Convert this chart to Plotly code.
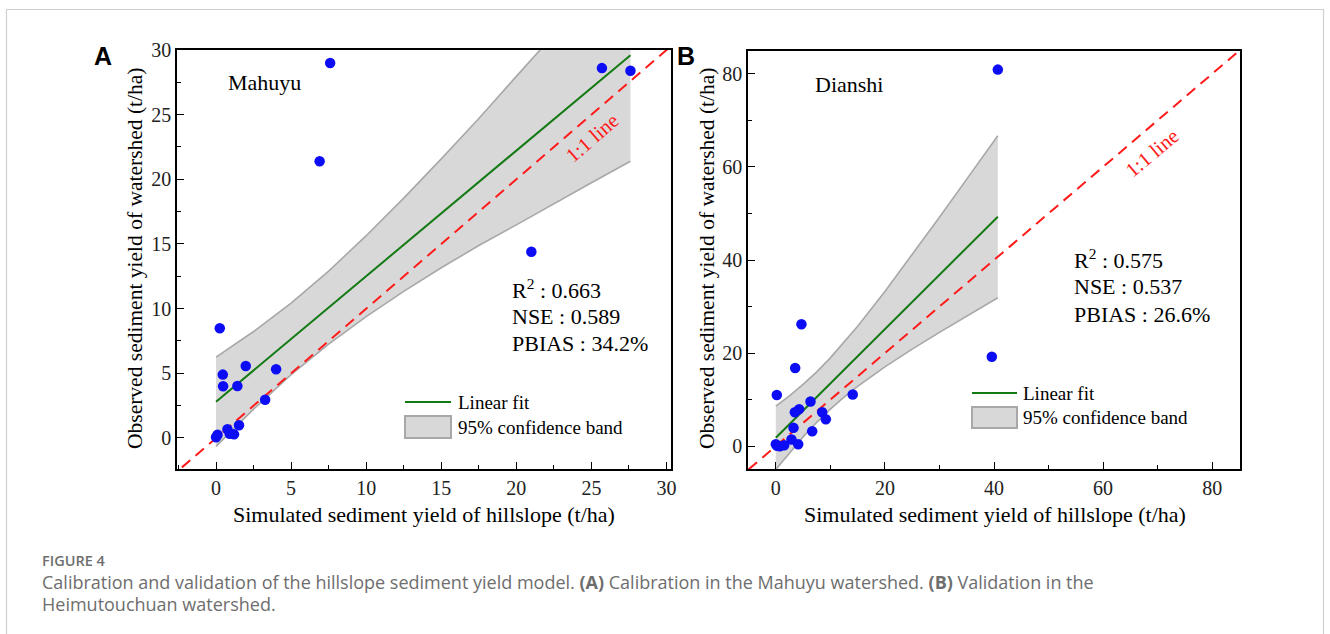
import plotly.graph_objects as go

# ---------------- Data ----------------
# Panel A: Mahuyu (calibration)
a_sim = [7.6, 6.9, 25.7, 27.6, 21.0, 0.25, 0.45, 0.47, 1.98, 1.42, 4.0, 3.27, 1.53, 0.76, 0.91, 1.2, 0.0, 0.1]
a_obs = [29.0, 21.4, 28.6, 28.4, 14.4, 8.48, 4.9, 4.0, 5.57, 4.02, 5.31, 2.96, 0.98, 0.67, 0.33, 0.28, 0.05, 0.25]
a_fit_x = [0.0, 27.6]
a_fit_y = [2.8, 29.6]
a_band_x = [0.0, 2.5, 5.0, 7.5, 10.0, 12.5, 15.0, 17.5, 20.0, 22.5, 25.0, 27.6]
a_band_up = [6.25, 8.23, 10.43, 12.9, 15.64, 18.55, 21.58, 24.7, 27.96, 31.17, 34.42, 37.8]
a_band_lo = [-0.65, 2.23, 4.89, 7.26, 9.38, 11.33, 13.16, 14.88, 16.48, 18.13, 19.74, 21.4]
a_stats = ["R<sup>2</sup> : 0.663", "NSE : 0.589", "PBIAS : 34.2%"]

# Panel B: Dianshi (validation)
b_sim = [40.7, 39.6, 14.1, 4.7, 3.55, 0.18, 6.36, 4.28, 3.49, 8.5, 9.17, 3.24, 6.67, 2.87, 4.1, 1.53, 0.24, 0.0, 0.73]
b_obs = [80.9, 19.2, 11.1, 26.2, 16.8, 11.0, 9.6, 7.96, 7.3, 7.3, 5.8, 3.94, 3.2, 1.43, 0.43, 0.2, 0.08, 0.43, 0.0]
b_fit_x = [0.0, 40.7]
b_fit_y = [1.8, 49.3]
b_band_x = [0.0, 2.5, 5.0, 7.5, 10.0, 12.5, 15.0, 20.0, 25.0, 30.0, 35.0, 40.7]
b_band_up = [8.6, 10.83, 13.28, 15.97, 18.97, 22.25, 25.76, 33.25, 41.12, 49.18, 57.37, 66.7]
b_band_lo = [-5.0, -1.39, 2.0, 5.13, 7.97, 10.53, 12.86, 17.03, 20.84, 24.44, 27.93, 31.9]
b_stats = ["R<sup>2</sup> : 0.575", "NSE : 0.537", "PBIAS : 26.6%"]

x_title = "Simulated sediment yield of hillslope (t/ha)"
y_title = "Observed sediment yield of watershed (t/ha)"

# ---------------- Styling ----------------
W, H = 1330, 634
SERIF = "Liberation Serif"
BLUE = "#0c0cf5"
GREEN = "#137a13"
RED = "#ff1a1a"
BAND = "#d8d8d8"
BANDLINE = "#a8a8a8"


def px(x):
    return x / W


def py(y):
    return 1 - y / H


fig = go.Figure()


def add_panel(xa, ya, sim, obs, fx, fy, bx, bup, blo, one_range):
    fig.add_trace(go.Scatter(x=bx + bx[::-1], y=bup + blo[::-1], fill="toself",
                             fillcolor=BAND, line=dict(width=0), mode="lines",
                             hoverinfo="skip", showlegend=False, xaxis=xa, yaxis=ya))
    for yy in (bup, blo):
        fig.add_trace(go.Scatter(x=bx, y=yy, mode="lines", line=dict(color=BANDLINE, width=1.6),
                                 showlegend=False, xaxis=xa, yaxis=ya))
    fig.add_trace(go.Scatter(x=one_range, y=one_range, mode="lines",
                             line=dict(color=RED, width=2, dash="11px,7px"),
                             showlegend=False, xaxis=xa, yaxis=ya))
    fig.add_trace(go.Scatter(x=fx, y=fy, mode="lines", line=dict(color=GREEN, width=2),
                             showlegend=False, xaxis=xa, yaxis=ya))
    fig.add_trace(go.Scatter(x=sim, y=obs, mode="markers",
                             marker=dict(color=BLUE, size=10.5, line=dict(width=0)),
                             showlegend=False, xaxis=xa, yaxis=ya))


add_panel("x", "y", a_sim, a_obs, a_fit_x, a_fit_y, a_band_x, a_band_up, a_band_lo, [-5, 35])
add_panel("x2", "y2", b_sim, b_obs, b_fit_x, b_fit_y, b_band_x, b_band_up, b_band_lo, [-10, 90])

axis_common = dict(showline=True, linecolor="black", linewidth=1.6, mirror=True,
                   ticks="inside", ticklen=7, tickwidth=1.4, tickcolor="black",
                   showgrid=False, zeroline=False, automargin=False,
                   tickfont=dict(family=SERIF, size=20, color="#222"))

fig.update_layout(
    width=W, height=H, margin=dict(l=0, r=0, t=0, b=0, autoexpand=False),
    paper_bgcolor="white", plot_bgcolor="white",
    xaxis=dict(domain=[px(177), px(671)], range=[-2.6, 30.3], dtick=5, anchor="y",
               minor=dict(ticks="inside", ticklen=4, dtick=2.5, tickcolor="black"), **axis_common),
    yaxis=dict(domain=[py(469), py(50)], range=[-2.4, 30.0], dtick=5, anchor="x",
               minor=dict(ticks="inside", ticklen=4, dtick=2.5, tickcolor="black"), **axis_common),
    xaxis2=dict(domain=[px(748), px(1240)], range=[-5.1, 85.1], dtick=20, anchor="y2",
                minor=dict(ticks="inside", ticklen=4, dtick=10, tickcolor="black"), **axis_common),
    yaxis2=dict(domain=[py(469), py(51)], range=[-4.9, 84.9], dtick=20, anchor="x2",
                minor=dict(ticks="inside", ticklen=4, dtick=10, tickcolor="black"), **axis_common),
    showlegend=False,
)

ann = []
shapes = []


def text(x, y, t, size=22, color="black", family=SERIF, xanchor="left", angle=0, weight=None):
    f = dict(family=family, size=size, color=color)
    if weight:
        f["weight"] = weight
    ann.append(dict(x=px(x), y=py(y), xref="paper", yref="paper", text=t, showarrow=False,
                    xanchor=xanchor, yanchor="middle", textangle=angle, font=f))


# outer frame
shapes.append(dict(type="rect", xref="paper", yref="paper", x0=px(6.5), x1=px(1323.5),
                   y0=-0.05, y1=py(9.5), line=dict(color="#cfcfcf", width=1.2), fillcolor="rgba(0,0,0,0)",
                   layer="below"))

# panel letters
text(103, 56, "<b>A</b>", size=25, family="Liberation Sans", xanchor="center")
text(686, 56, "<b>B</b>", size=25, family="Liberation Sans", xanchor="center")

# axis titles
text(424, 514, x_title, size=22, xanchor="center")
text(995, 514, x_title, size=22, xanchor="center")
text(135, 258, y_title, size=21.5, xanchor="center", angle=-90)
text(707, 258, y_title, size=21.5, xanchor="center", angle=-90)

# site names
text(226, 83, "Mahuyu", size=22)
text(813, 84, "Dianshi", size=22)

# 1:1 labels
text(592, 138, "1:1 line", size=20.5, color=RED, xanchor="center", angle=-41)
text(1152, 153, "1:1 line", size=20.5, color=RED, xanchor="center", angle=-40)

# stats
for i, s in enumerate(a_stats):
    text(510, 289 + 27 * i, s, size=22)
for i, s in enumerate(b_stats):
    text(1072, 259 + 27.5 * i, s, size=22)

# legends
for (lx0, lx1, ly, by0, by1, tx) in [(405, 451, 402, 416, 438, 456), (972, 1017, 393, 407, 428, 1021)]:
    shapes.append(dict(type="line", xref="paper", yref="paper", x0=px(lx0), x1=px(lx1), y0=py(ly), y1=py(ly),
                       line=dict(color=GREEN, width=2)))
    shapes.append(dict(type="rect", xref="paper", yref="paper", x0=px(lx0), x1=px(lx1), y0=py(by1), y1=py(by0),
                       line=dict(color=BANDLINE, width=2), fillcolor=BAND))
    text(tx, ly, "Linear fit", size=19)
    text(tx, (by0 + by1) / 2, "95% confidence band", size=19)

# caption
CAP = "Open Sans"
GRAY = "#6e6e6e"
text(40, 560, "FIGURE 4", size=14.5, color=GRAY, family=CAP, weight=600)
text(40, 582, "Calibration and validation of the hillslope sediment yield model. <b>(A)</b> Calibration in the "
              "Mahuyu watershed. <b>(B)</b> Validation in the", size=18, color=GRAY, family=CAP)
text(40, 604, "Heimutouchuan watershed.", size=18, color=GRAY, family=CAP)

fig.update_layout(annotations=ann, shapes=shapes)
fig.write_html("out.html", config={"displayModeBar": False},
               post_script="document.body.style.margin='0px';document.body.style.overflow='hidden';")
